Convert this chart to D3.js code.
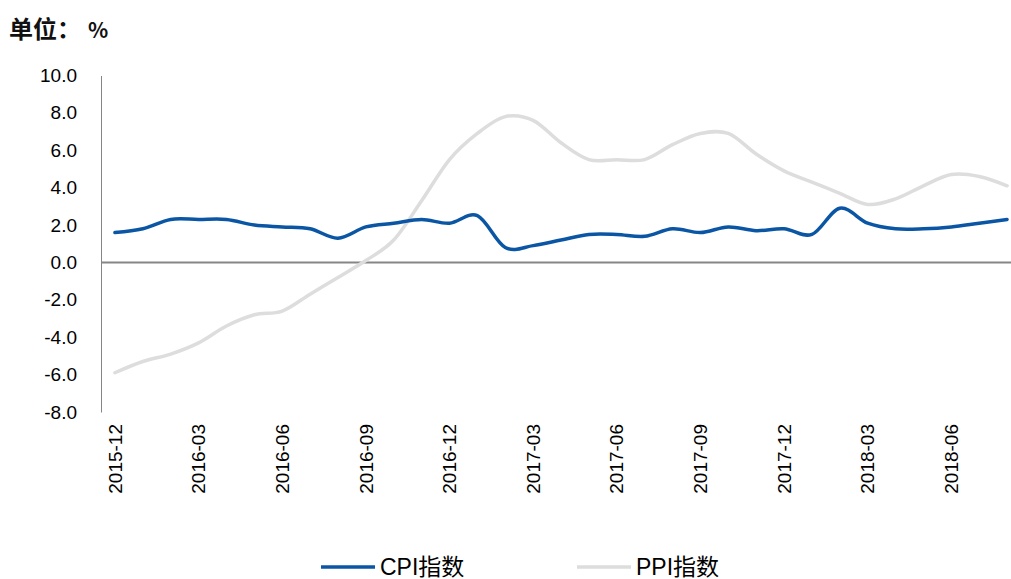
<!DOCTYPE html>
<html>
<head>
<meta charset="utf-8">
<script src="https://cdn.jsdelivr.net/npm/d3@7"></script>
<style>
  body { margin: 0; background: #fff; }
  svg { display: block; font-family: Arial, "Liberation Sans", "Noto Sans CJK SC", sans-serif; }
</style>
</head>
<body>
<div id="chart"></div>
<script>
const width = 1011, height = 579;

const months = [
  "2015-12",
  "2016-01", "2016-02", "2016-03", "2016-04", "2016-05", "2016-06",
  "2016-07", "2016-08", "2016-09", "2016-10", "2016-11", "2016-12",
  "2017-01", "2017-02", "2017-03", "2017-04", "2017-05", "2017-06",
  "2017-07", "2017-08", "2017-09", "2017-10", "2017-11", "2017-12",
  "2018-01", "2018-02", "2018-03", "2018-04", "2018-05", "2018-06",
  "2018-07", "2018-08"
];
const cpi = [
  1.6,
  1.8, 2.3, 2.3, 2.3, 2.0, 1.9,
  1.8, 1.3, 1.9, 2.1, 2.3, 2.1,
  2.5, 0.8, 0.9, 1.2, 1.5, 1.5,
  1.4, 1.8, 1.6, 1.9, 1.7, 1.8,
  1.5, 2.9, 2.1, 1.8, 1.8, 1.9,
  2.1, 2.3
];
const ppi = [
  -5.9,
  -5.3, -4.9, -4.3, -3.4, -2.8, -2.6,
  -1.7, -0.8, 0.1, 1.2, 3.3, 5.5,
  6.9, 7.8, 7.6, 6.4, 5.5, 5.5,
  5.5, 6.3, 6.9, 6.9, 5.8, 4.9,
  4.3, 3.7, 3.1, 3.4, 4.1, 4.7,
  4.6, 4.1
];
const yTicks = [-8, -6, -4, -2, 0, 2, 4, 6, 8, 10];
const xTickLabels = ["2015-12", "2016-03", "2016-06", "2016-09", "2016-12", "2017-03",
  "2017-06", "2017-09", "2017-12", "2018-03", "2018-06"];

const series = [
  {name: "CPI指数", values: cpi, color: "#0A56A5"},
  {name: "PPI指数", values: ppi, color: "#DDDDDD"}
];

const svg = d3.select("#chart").append("svg")
  .attr("width", width)
  .attr("height", height);

const x = d3.scaleBand().domain(months).range([101, 1021]).padding(0);
const y = d3.scaleLinear().domain([-8, 10]).range([412, 75.5]);
const cx = d => x(d) + x.bandwidth() / 2;

// title
const title = svg.append("text")
  .attr("x", 9)
  .attr("y", 38)
  .attr("font-family", "'Noto Sans CJK SC', sans-serif")
  .attr("font-weight", "bold")
  .attr("font-size", "24px")
  .attr("fill", "#111");
title.append("tspan").text("单位：");
title.append("tspan").attr("dx", 7).attr("font-size", "21px").text("%");

// y axis (plain hyphen for negatives, like the original)
const yAxis = svg.append("g")
  .attr("transform", "translate(101,0)")
  .call(d3.axisLeft(y).tickValues(yTicks).tickSize(0).tickPadding(24).tickFormat(d => d.toFixed(1)));
yAxis.select(".domain").attr("stroke", "#868686").attr("stroke-width", 1);
yAxis.selectAll("text")
  .attr("font-size", "19px")
  .attr("font-family", "Arial, 'Liberation Sans', sans-serif")
  .attr("fill", "#000");

// x labels
const xAxis = svg.append("g")
  .attr("transform", "translate(0,412)")
  .call(d3.axisBottom(x).tickValues(xTickLabels).tickSize(0));
xAxis.select(".domain").remove();
xAxis.selectAll("text")
  .attr("font-size", "19px")
  .attr("font-family", "Arial, 'Liberation Sans', sans-serif")
  .attr("fill", "#000")
  .attr("text-anchor", "end")
  .attr("dy", "0.35em")
  .attr("transform", "translate(0,12) rotate(-90)")
  .attr("x", 0)
  .attr("y", 0);

// zero line
svg.append("line")
  .attr("x1", 101).attr("x2", 1021)
  .attr("y1", y(0)).attr("y2", y(0))
  .attr("stroke", "#868686")
  .attr("stroke-width", 2);

const line = d3.line()
  .x((d, i) => cx(months[i]))
  .y(d => y(d))
  .curve(d3.curveCatmullRom.alpha(0));

// PPI drawn first so CPI sits on top
svg.append("g").selectAll("path")
  .data(series.slice().reverse())
  .join("path")
  .attr("d", d => line(d.values))
  .attr("fill", "none")
  .attr("stroke", d => d.color)
  .attr("stroke-width", 3.5)
  .attr("stroke-linecap", "round");

// legend
const legendX = [321, 577];
const legend = svg.append("g");
series.forEach((s, i) => {
  const g = legend.append("g").attr("transform", `translate(${legendX[i]},567)`);
  g.append("line")
    .attr("x1", 0).attr("x2", 54)
    .attr("stroke", s.color)
    .attr("stroke-width", 3.5);
  g.append("text")
    .attr("x", 59)
    .attr("dy", "0.35em")
    .attr("font-size", "23px")
    .attr("fill", "#000")
    .text(s.name);
});
</script>
</body>
</html>
